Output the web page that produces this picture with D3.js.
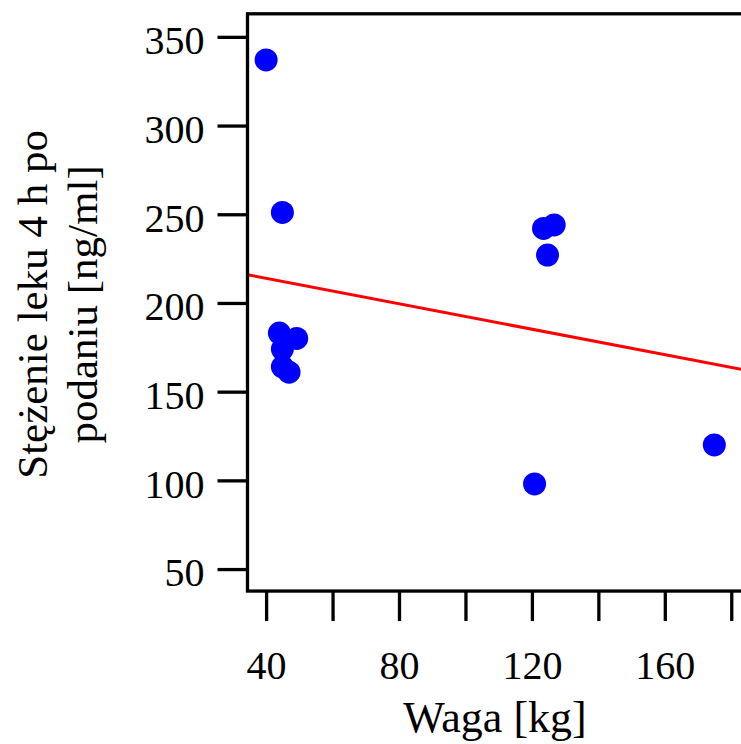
<!DOCTYPE html>
<html>
<head>
<meta charset="utf-8">
<script src="https://cdn.jsdelivr.net/npm/d3@7"></script>
<style>
  body { margin: 0; background: #fff; }
  text { font-family: "Liberation Serif", "DejaVu Serif", serif; }
</style>
</head>
<body>
<div id="chart"></div>
<script>
// dane
const waga = [40, 44.9, 44, 49.2, 44.9, 44.9, 46.9, 123.5, 126.7, 124.7, 120.8, 174.9];
const stezenie = [337, 251, 183, 180, 174, 164, 161, 242, 244, 227, 98, 120];
const xTicks = [40, 60, 80, 100, 120, 140, 160, 180];
const xLabels = [40, 80, 120, 160];
const yTicks = [50, 100, 150, 200, 250, 300, 350];
// prosta regresji (wyraz wolny, nachylenie)
const fit = [228.3, -0.359];

const W = 741, H = 744;
const margin = { top: 13.8, left: 247.5 };
const xDom = [34.4, 185.6], yDom = [37.6, 363];
const innerW = (xDom[1] - xDom[0]) * 3.3225;
const innerH = (yDom[1] - yDom[0]) * 1.774;

const svg = d3.select("#chart").append("svg")
  .attr("width", W).attr("height", H);

const g = svg.append("g")
  .attr("transform", `translate(${margin.left}, ${margin.top})`);

const x = d3.scaleLinear().domain(xDom).range([0, innerW]);
const y = d3.scaleLinear().domain(yDom).range([innerH, 0]);

g.append("clipPath").attr("id", "clip")
  .append("rect").attr("width", innerW).attr("height", innerH);

// osie
const xAxis = g.append("g")
  .attr("transform", `translate(0, ${innerH})`)
  .call(d3.axisBottom(x).tickValues(xTicks).tickSize(30).tickPadding(30)
    .tickFormat((d) => (xLabels.includes(d) ? d : "")));

const yAxis = g.append("g")
  .call(d3.axisLeft(y).tickValues(yTicks).tickSize(30).tickPadding(13));

[xAxis, yAxis].forEach((a) => {
  a.select(".domain").remove();
  a.selectAll("line").attr("stroke", "#000").attr("stroke-width", 3.3);
  a.selectAll("text").attr("fill", "#000").style("font-size", "40px")
    .style("font-family", '"Liberation Serif", serif');
});
yAxis.selectAll("text").attr("dy", "0.42em");

// linia regresji
const plot = g.append("g").attr("clip-path", "url(#clip)");
plot.append("line")
  .attr("x1", x(xDom[0])).attr("y1", y(fit[0] + fit[1] * xDom[0]))
  .attr("x2", x(xDom[1])).attr("y2", y(fit[0] + fit[1] * xDom[1]))
  .attr("stroke", "#ff0000").attr("stroke-width", 3);

// punkty
plot.selectAll("circle")
  .data(waga)
  .enter()
  .append("circle")
  .attr("cx", (d) => x(d))
  .attr("cy", (d, i) => y(stezenie[i]))
  .attr("r", 11.5)
  .attr("fill", "#0000ff");

// ramka
g.append("rect")
  .attr("width", innerW).attr("height", innerH)
  .attr("fill", "none").attr("stroke", "#000").attr("stroke-width", 3.3);

// podpisy osi
svg.append("text")
  .attr("x", 495)
  .attr("y", 732)
  .attr("text-anchor", "middle")
  .style("font-size", "44px")
  .text("Waga [kg]");

const yl = svg.append("text")
  .attr("transform", `translate(47, ${margin.top + innerH / 2 + 2}) rotate(-90)`)
  .attr("text-anchor", "middle")
  .style("font-size", "43px");
yl.append("tspan").attr("x", 0).attr("y", 0).text("Stężenie leku 4 h po");
yl.append("tspan").attr("x", 0).attr("y", 50).text("podaniu [ng/ml]");
</script>
</body>
</html>
